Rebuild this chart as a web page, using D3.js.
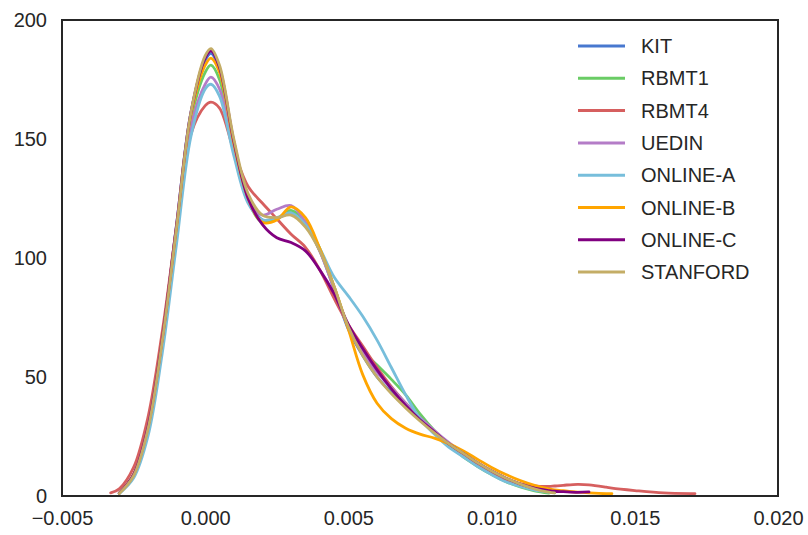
<!DOCTYPE html>
<html>
<head>
<meta charset="utf-8">
<script src="https://cdn.jsdelivr.net/npm/d3@7"></script>
<style>
  body { margin: 0; background: #fff; }
  text { font-family: "Liberation Sans", Arial, sans-serif; fill: #262626; }
</style>
</head>
<body>
<svg id="chart"></svg>
<script>
const n = null

// shared x grid (KDE support)
const X = [-0.0033, -0.003, -0.0025, -0.002, -0.0015, -0.001, -0.0005, 0, 0.0002, 0.0005,
           0.001, 0.0015, 0.002, 0.0025, 0.003, 0.0035, 0.004, 0.0045, 0.005, 0.0055,
           0.006, 0.0065, 0.007, 0.0075, 0.008, 0.0085, 0.009, 0.0095, 0.010, 0.0105,
           0.011, 0.0115, 0.012, 0.0122, 0.0125, 0.013, 0.0134, 0.014, 0.0142, 0.015,
           0.016, 0.017, 0.0171]

const KIT = [n, 1.2, 9, 29, 66, 114, 161, 183, 186, 179, 148, 125, 116, 116.5, 119, 114, 103, 87, 70, 59,
             50, 43.5, 37.5, 32, 27, 22, 17.5, 13.5, 10, 7, 4.5, 2.8, 1.7, 1.4, n, n, n, n, n, n, n, n, n]
const RBMT1 = [n, 1.2, 9, 29, 65, 112, 158, 178, 181, 175, 146, 124, 115, 116.5, 120, 115, 104, 88, 71, 61,
               55, 49, 42.5, 34.5, 27.5, 21.5, 16.5, 12.5, 9, 6, 3.8, 2.2, 1.2, n, n, n, n, n, n, n, n, n, n]
const RBMT4 = [1.3, 3, 12, 33, 69, 113, 152, 164, 165.5, 163, 145, 130, 123, 116.5, 110, 104.5, 95, 83, 72, 63,
               54, 46, 39, 32.5, 27, 22, 17.5, 13.5, 10, 7, 5.2, 4.2, 4.0, 4.2, 4.5, 4.9, 4.7, 3.7, 3.3, 2.3,
               1.3, 1.0, 1.0]
const UEDIN = [n, 1.2, 9, 29, 65, 111, 155, 173, 176, 171, 145, 124, 118, 120.5, 122, 115, 103, 87, 71, 60,
               52, 45.5, 39, 33, 27.5, 22.5, 18, 14, 10.5, 7.5, 5, 3, 1.8, 1.4, n, n, n, n, n, n, n, n, n]
const ONLINE_A = [n, 1.0, 7.5, 25, 60, 106, 151, 171, 173, 168, 143, 123, 116, 117, 119, 114, 104, 92, 84, 75.5,
                  65.5, 54, 42.5, 32.5, 26, 20.5, 16.5, 12.5, 9, 6, 4, 2.5, 1.6, 1.3, n, n, n, n, n, n, n, n, n]
const ONLINE_B = [n, 1.2, 9, 29, 66, 113, 160, 181, 184, 178, 148, 125, 115, 116, 121.5, 117, 104, 88, 70, 51,
                  39, 32.5, 28.5, 26, 24.3, 22, 19, 15.5, 12, 9, 6.5, 4.5, 3, 2.6, 2.2, 1.6, 1.3, 1.0, 1.0, n,
                  n, n, n]
const ONLINE_C = [n, 1.2, 9, 29, 66, 114, 161, 184, 187, 180, 149, 125, 114, 108.5, 106.5, 103, 95, 85, 72, 62,
                  53, 45, 38, 32, 27, 22, 18, 14, 10.5, 7.5, 5, 3.3, 2.3, 2.0, 1.8, 1.5, 1.7, n, n, n, n, n, n]
const STANFORD = [n, 1.0, 8.5, 28, 65, 113, 161, 185, 188, 181, 150, 127, 118, 117, 118, 113, 103, 88, 71, 59,
                  50, 43, 37, 31.5, 26.5, 22, 18, 14, 10.5, 7.5, 5, 3, 1.6, 1.3, n, n, n, n, n, n, n, n, n]

const names = ['KIT', 'RBMT1', 'RBMT4', 'UEDIN', 'ONLINE-A', 'ONLINE-B', 'ONLINE-C', 'STANFORD']
const colors = ['#4878cf', '#6acc65', '#d65f5f', '#b47cc7', '#77bedb', '#ffa500', '#800080', '#c4ad66']
const values = [KIT, RBMT1, RBMT4, UEDIN, ONLINE_A, ONLINE_B, ONLINE_C, STANFORD]

const xTicks = [-0.005, 0.000, 0.005, 0.010, 0.015, 0.020]
const yTicks = [0, 50, 100, 150, 200]

const width = 808, height = 535
const marginTop = 20, marginRight = 30, marginBottom = 39, marginLeft = 62

const svg = d3.select('#chart')
              .attr('width', width)
              .attr('height', height)
              .attr('viewBox', [0, 0, width, height])

const xScale = d3.scaleLinear([-0.005, 0.020], [marginLeft, width - marginRight])
const yScale = d3.scaleLinear([0, 200], [height - marginBottom, marginTop])

const fmt = d => d3.format('.3f')(d).replace('-', '\u2212')

// axes: labels only, no tick marks (seaborn white style)
svg.append('g')
   .attr('transform', `translate(0,${height - marginBottom})`)
   .call(d3.axisBottom(xScale).tickValues(xTicks).tickFormat(fmt).tickSize(0).tickPadding(15))
   .call(g => g.select('.domain').remove())
   .call(g => g.selectAll('text').attr('font-size', 20).attr('font-family', null).attr('fill', '#262626'))

svg.append('g')
   .attr('transform', `translate(${marginLeft},0)`)
   .call(d3.axisLeft(yScale).tickValues(yTicks).tickFormat(d3.format('d')).tickSize(0).tickPadding(15))
   .call(g => g.select('.domain').remove())
   .call(g => g.selectAll('text').attr('font-size', 20).attr('font-family', null).attr('fill', '#262626'))

const line = d3.line()
               .defined(d => d[1] !== null)
               .curve(d3.curveCatmullRom.alpha(0.5))
               .x(d => xScale(d[0]))
               .y(d => yScale(d[1]))

svg.append('g')
   .attr('fill', 'none')
   .attr('stroke-width', 2.8)
   .attr('stroke-linecap', 'round')
   .attr('stroke-linejoin', 'round')
 .selectAll('path')
 .data(values)
 .join('path')
   .attr('d', ys => line(X.map((x, i) => [x, ys[i]])))
   .attr('stroke', (ys, j) => colors[j])

// frame
svg.append('rect')
   .attr('x', marginLeft)
   .attr('y', marginTop)
   .attr('width', width - marginRight - marginLeft)
   .attr('height', height - marginBottom - marginTop)
   .attr('fill', 'none')
   .attr('stroke', '#262626')
   .attr('stroke-width', 2)

// legend
const legend = svg.append('g')
                  .attr('transform', 'translate(578,46)')
                  .selectAll('g')
                  .data(names)
                  .join('g')
                  .attr('transform', (d, i) => `translate(0,${i * 32.3})`)

legend.append('line')
      .attr('x1', 0).attr('x2', 47)
      .attr('stroke', (d, i) => colors[i])
      .attr('stroke-width', 3)

legend.append('text')
      .attr('x', 63)
      .attr('dy', '0.35em')
      .attr('font-size', 20)
      .text(d => d)
</script>
</body>
</html>
